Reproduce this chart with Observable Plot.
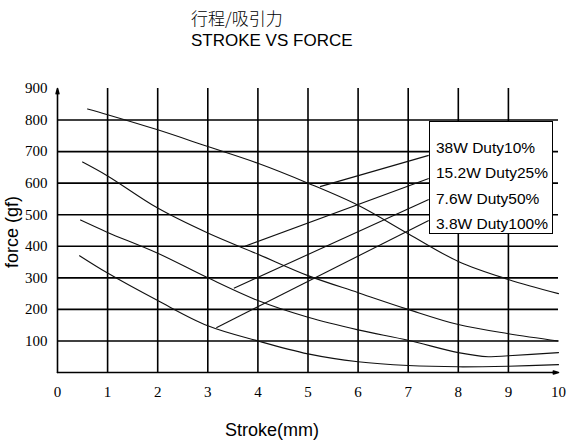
<!DOCTYPE html>
<html>
<head>
<meta charset="utf-8">
<script src="https://cdn.jsdelivr.net/npm/d3@7"></script>
<script src="https://cdn.jsdelivr.net/npm/@observablehq/plot@0.6"></script>
<style>
  html, body { margin: 0; padding: 0; background: #fff; }
  #wrap { position: relative; width: 582px; height: 442px; overflow: hidden; font-family: "Liberation Sans", Arial, sans-serif; }
  #chart { position: absolute; left: 0; top: 60px; }
  .t { position: absolute; white-space: nowrap; line-height: 1; color: #000; }
  #legend { position: absolute; left: 429px; top: 121px; width: 122px; height: 111px; border: 1px solid #000; background: #fff; box-sizing: content-box; font-size: 15.5px; padding: 0; z-index: 2; }
  #legend div { position: absolute; left: 6px; line-height: 1; white-space: nowrap; }
  #chart svg text { font-family: "Liberation Serif", "DejaVu Serif", serif; }
</style>
</head>
<body>
<div id="wrap">
  <div class="t" id="titleCn" style="left:191px; top:9px; font-size:17px; font-family:'Noto Sans CJK SC'; font-weight:300;">行程/吸引力</div>
  <div class="t" id="titleEn" style="left:191px; top:32px; font-size:17px;">STROKE VS FORCE</div>
  <div id="chart"></div>
  <div class="t" id="ylab" style="left:12px; top:232px; font-size:18px; transform: translate(-50%,-50%) rotate(-90deg);">force (gf)</div>
  <div class="t" id="xlab" style="left:272px; top:430px; font-size:18px; transform: translate(-50%,-50%);">Stroke(mm)</div>
  <div id="legend"></div>
</div>
<script>
// ---- data ----
const series = ["38W Duty10%", "15.2W Duty25%", "7.6W Duty50%", "3.8W Duty100%"];

const strokeA = [0.6, 1, 2, 3, 4, 5, 6, 7, 8, 9, 10];
const forceA  = [835, 817, 769, 716, 663, 600, 530, 440, 352, 295, 250];

const strokeB = [0.5, 1, 2, 3, 4, 5, 6, 7, 8, 9, 10];
const forceB  = [667, 623, 521, 442, 375, 307, 253, 200, 152, 123, 100];

const strokeC = [0.46, 1, 2, 3, 4, 5, 6, 7, 8, 8.6, 9, 10];
const forceC  = [483, 444, 378, 300, 228, 175, 135, 102, 63, 50, 53, 63];

const strokeD = [0.44, 1, 2, 3, 4, 5, 6, 7, 8, 9, 10];
const forceD  = [370, 315, 228, 148, 100, 59, 34, 22, 18, 20, 25];

// leader lines from each curve to its legend entry
const leaderFromX = [5.24, 3.74, 3.52, 3.17];
const leaderFromY = [589, 400, 267, 142];
const leaderToX   = [7.41, 7.41, 7.41, 7.41];
const leaderToY   = [688, 615, 548, 482];

const xTicks = [0, 1, 2, 3, 4, 5, 6, 7, 8, 9, 10];
const yTicks = [100, 200, 300, 400, 500, 600, 700, 800, 900];
const xGrid = [1, 2, 3, 4, 5, 6, 7, 8, 9];
const yGrid = [100, 200, 300, 400, 500, 600, 700, 800];
const xDomain = [0, 10];
const yDomain = [0, 900];

// ---- build tables ----
const strokes = [strokeA, strokeB, strokeC, strokeD];
const forces = [forceA, forceB, forceC, forceD];
const curves = series.flatMap((s, i) => strokes[i].map((x, j) => ({series: s, stroke: x, force: forces[i][j]})));
const leaders = series.map((s, i) => ({series: s, x1: leaderFromX[i], y1: leaderFromY[i], x2: leaderToX[i], y2: leaderToY[i]}));

const serif = "Liberation Serif";
const plot = Plot.plot({
  width: 582,
  height: 382,
  marginTop: 28,
  marginBottom: 70,
  marginLeft: 57,
  marginRight: 24,
  style: {fontFamily: serif, fontSize: "15px", color: "#000", background: "transparent", overflow: "visible"},
  x: {domain: xDomain, label: null},
  y: {domain: yDomain, label: null},
  marks: [
    Plot.ruleX(xGrid, {y1: yDomain[0], y2: yDomain[1], stroke: "#000", strokeWidth: 1.6}),
    Plot.ruleY(yGrid, {x1: xDomain[0], x2: xDomain[1], stroke: "#000", strokeWidth: 1.6}),
    Plot.arrow([0], {x1: xDomain[0], y1: yDomain[0], x2: xDomain[0], y2: yDomain[1], stroke: "#000", strokeWidth: 1.6, headLength: 5, headAngle: 30}),
    Plot.arrow([0], {x1: xDomain[0], y1: yDomain[0], x2: xDomain[1], y2: yDomain[0], stroke: "#000", strokeWidth: 1.6, headLength: 5, headAngle: 30}),
    Plot.line(curves, {x: "stroke", y: "force", z: "series", curve: "catmull-rom", stroke: "#111", strokeWidth: 1.1}),
    Plot.link(leaders, {x1: "x1", y1: "y1", x2: "x2", y2: "y2", stroke: "#111", strokeWidth: 1.1}),
    Plot.axisX({ticks: xTicks, tickSize: 0, tickPadding: 14, tickFormat: d => String(d), label: null, fontFamily: serif, fontSize: 15}),
    Plot.axisY({ticks: yTicks, tickSize: 0, tickPadding: 10, tickFormat: d => String(d), label: null, fontFamily: serif, fontSize: 15})
  ]
});
document.getElementById("chart").appendChild(plot);

// legend entries
const legend = document.getElementById("legend");
series.forEach((s, i) => {
  const d = document.createElement("div");
  d.textContent = s;
  d.style.top = (18 + i * 25.3) + "px";
  legend.appendChild(d);
});
</script>
</body>
</html>
